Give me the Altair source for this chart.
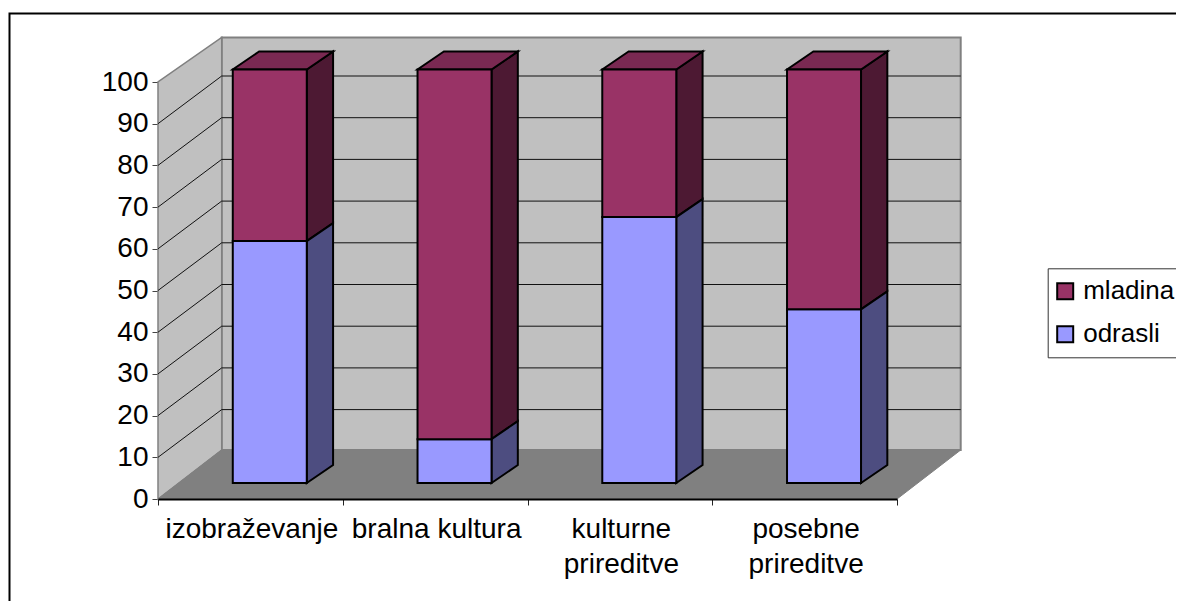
import altair as alt
import pandas as pd

categories = ["izobraževanje", "bralna kultura", "kulturne\nprireditve", "posebne\nprireditve"]
odrasli = [58.5, 10.6, 64.3, 42.0]
mladina = [41.5, 89.4, 35.7, 58.0]
series_names = ["mladina", "odrasli"]
y_ticks = list(range(0, 101, 10))
x_ticks = [0, 1, 2, 3, 4]
grid_levels = list(range(10, 100, 10))

# layout of the pseudo-3D box, in axis units
W, H = 739, 417
PX = 4 / W          # category units per pixel
PY = 100 / H        # value units per pixel
DEPTH_X = 63.7 * PX
DEPTH_Y = 47.7 * PY
BACK_BOTTOM = 49 * PY
BACK_TOP = 100 + 44.5 * PY
BAR_W = 74 * PX
BAR_SHIFT = 19.4 * PX
BAR_DX = 26.3 * PX
BAR_DY = 18 * PY
BAR_BASE = 16 * PY
BAR_K = 413.5 / H
LABEL_SHIFT = 1.5 * PX

FONT = "Liberation Sans"
FS = 28
C = {"mladina": ("#993366", "#4D1933", "#7A2952"), "odrasli": ("#9999FF", "#4D4D80", "#7A7ACC")}
sx = alt.Scale(domain=[0, 4], zero=False, nice=False)
sy = alt.Scale(domain=[0, 100], zero=False, nice=False)
AX = alt.Axis(values=x_ticks, labels=False, ticks=True, tickSize=6, tickColor="#222222",
              domainColor="black", domainWidth=2, grid=False, zindex=1)
AY = alt.Axis(values=y_ticks, tickSize=6, tickColor="#444444", domainColor="#808080", domainWidth=1,
              grid=False, labelFont=FONT, labelFontSize=FS, labelColor="black", labelPadding=4,
              format="d", zindex=0)


def X(f):
    return alt.X(f, type="quantitative", scale=sx, title=None, axis=AX, stack=None)


def Y(f):
    return alt.Y(f, type="quantitative", scale=sy, title=None, axis=AY, stack=None)


def vertical_area(df, fill, stroke, sw):
    return alt.Chart(df).mark_area(fill=fill, stroke=stroke, strokeWidth=sw, strokeJoin="miter", clip=False).encode(
        x=X("x"), y=Y("y0"), y2=alt.Y2("y1"), detail="k:N")


def horizontal_area(df, fill, stroke, sw):
    return alt.Chart(df).mark_area(orient="horizontal", fill=fill, stroke=stroke, strokeWidth=sw, clip=False).encode(
        y=Y("y"), x=X("x0"), x2=alt.X2("x1"), detail="k:N")


layers = []

# chart frame
frame = alt.Chart(pd.DataFrame({"a": [0]})).mark_rect(fillOpacity=0, stroke="black", strokeWidth=2).encode(
    x=alt.value(-148.5), x2=alt.value(1400), y=alt.value(-68.5), y2=alt.value(900))
layers.append(frame)

# back wall
layers.append(alt.Chart(pd.DataFrame({"x0": [DEPTH_X], "x1": [4 + DEPTH_X], "y0": [BACK_BOTTOM], "y1": [BACK_TOP]}))
              .mark_rect(fill="#C0C0C0", stroke="#808080", strokeWidth=2, clip=False)
              .encode(x=X("x0"), x2=alt.X2("x1"), y=Y("y0"), y2=alt.Y2("y1")))
# left wall
layers.append(vertical_area(pd.DataFrame({"k": ["w", "w"], "x": [0, DEPTH_X], "y0": [0, BACK_BOTTOM], "y1": [100, BACK_TOP]}),
                            "#C0C0C0", "#808080", 1.5))
# floor
layers.append(horizontal_area(pd.DataFrame({"k": ["f", "f"], "y": [0, BACK_BOTTOM], "x0": [0, DEPTH_X], "x1": [4, 4 + DEPTH_X]}),
                              "#808080", "#808080", 1))

# gridlines
g_back = pd.DataFrame({"x0": [DEPTH_X] * len(grid_levels), "x1": [4 + DEPTH_X] * len(grid_levels),
                       "y": [v + DEPTH_Y for v in grid_levels]})
layers.append(alt.Chart(g_back).mark_rule(color="#111111", strokeWidth=1, clip=False)
              .encode(x=X("x0"), x2=alt.X2("x1"), y=Y("y")))
g_side = pd.DataFrame([{"k": v, "x": dx, "y": v + dy}
                       for v in grid_levels for dx, dy in ((0, 0), (DEPTH_X, DEPTH_Y))])
layers.append(alt.Chart(g_side).mark_line(color="#111111", strokeWidth=1, clip=False)
              .encode(x=X("x"), y=Y("y"), detail="k:N"))

# bars
fronts, sides, tops = [], {s: [] for s in series_names}, []
for i, (a, b) in enumerate(zip(odrasli, mladina)):
    left = i + 0.5 + BAR_SHIFT - BAR_W / 2
    right = left + BAR_W
    y_a = BAR_BASE + a * BAR_K
    y_b = BAR_BASE + (a + b) * BAR_K
    fronts.append({"s": "odrasli", "x0": left, "x1": right, "y0": BAR_BASE, "y1": y_a})
    fronts.append({"s": "mladina", "x0": left, "x1": right, "y0": y_a, "y1": y_b})
    for s, lo, hi in (("odrasli", BAR_BASE, y_a), ("mladina", y_a, y_b)):
        sides[s] += [{"k": i, "x": right, "y0": lo, "y1": hi},
                     {"k": i, "x": right + BAR_DX, "y0": lo + BAR_DY, "y1": hi + BAR_DY}]
    tops += [{"k": i, "y": y_b, "x0": left, "x1": right},
             {"k": i, "y": y_b + BAR_DY, "x0": left + BAR_DX, "x1": right + BAR_DX}]

for s in series_names:
    layers.append(vertical_area(pd.DataFrame(sides[s]), C[s][1], "black", 2))
layers.append(horizontal_area(pd.DataFrame(tops), C["mladina"][2], "black", 2))
layers.append(alt.Chart(pd.DataFrame(fronts)).mark_rect(stroke="black", strokeWidth=2, clip=False).encode(
    x=X("x0"), x2=alt.X2("x1"), y=Y("y0"), y2=alt.Y2("y1"),
    fill=alt.Fill("s:N", scale=alt.Scale(domain=series_names, range=[C[s][0] for s in series_names]),
                  legend=alt.Legend(title=None, orient="none", legendX=889.7, legendY=186.3,
                                    symbolType="square", symbolSize=256, symbolStrokeColor="black",
                                    symbolStrokeWidth=2, symbolOffset=-5.5, labelFont=FONT, labelFontSize=26,
                                    labelColor="black", labelOffset=5, fillColor="white", strokeColor="#333333",
                                    padding=10, rowPadding=17, labelLimit=300))))

# category labels
labels = pd.DataFrame({"x": [i + 0.5 + LABEL_SHIFT for i in range(4)], "t": categories})
layers.append(alt.Chart(labels).mark_text(font=FONT, fontSize=FS, color="black", lineBreak="\n", lineHeight=35,
                                          align="center", baseline="alphabetic", clip=False)
              .encode(x=X("x"), y=alt.value(456), text="t:N"))

chart = alt.layer(*layers).properties(
    width=W, height=H,
    padding={"left": 150, "top": 74, "right": 279, "bottom": 102},
    autosize=alt.AutoSizeParams(type="none"),
).configure_view(stroke=None)

chart.save("out.html", embed_options={"renderer": "svg", "actions": False})
